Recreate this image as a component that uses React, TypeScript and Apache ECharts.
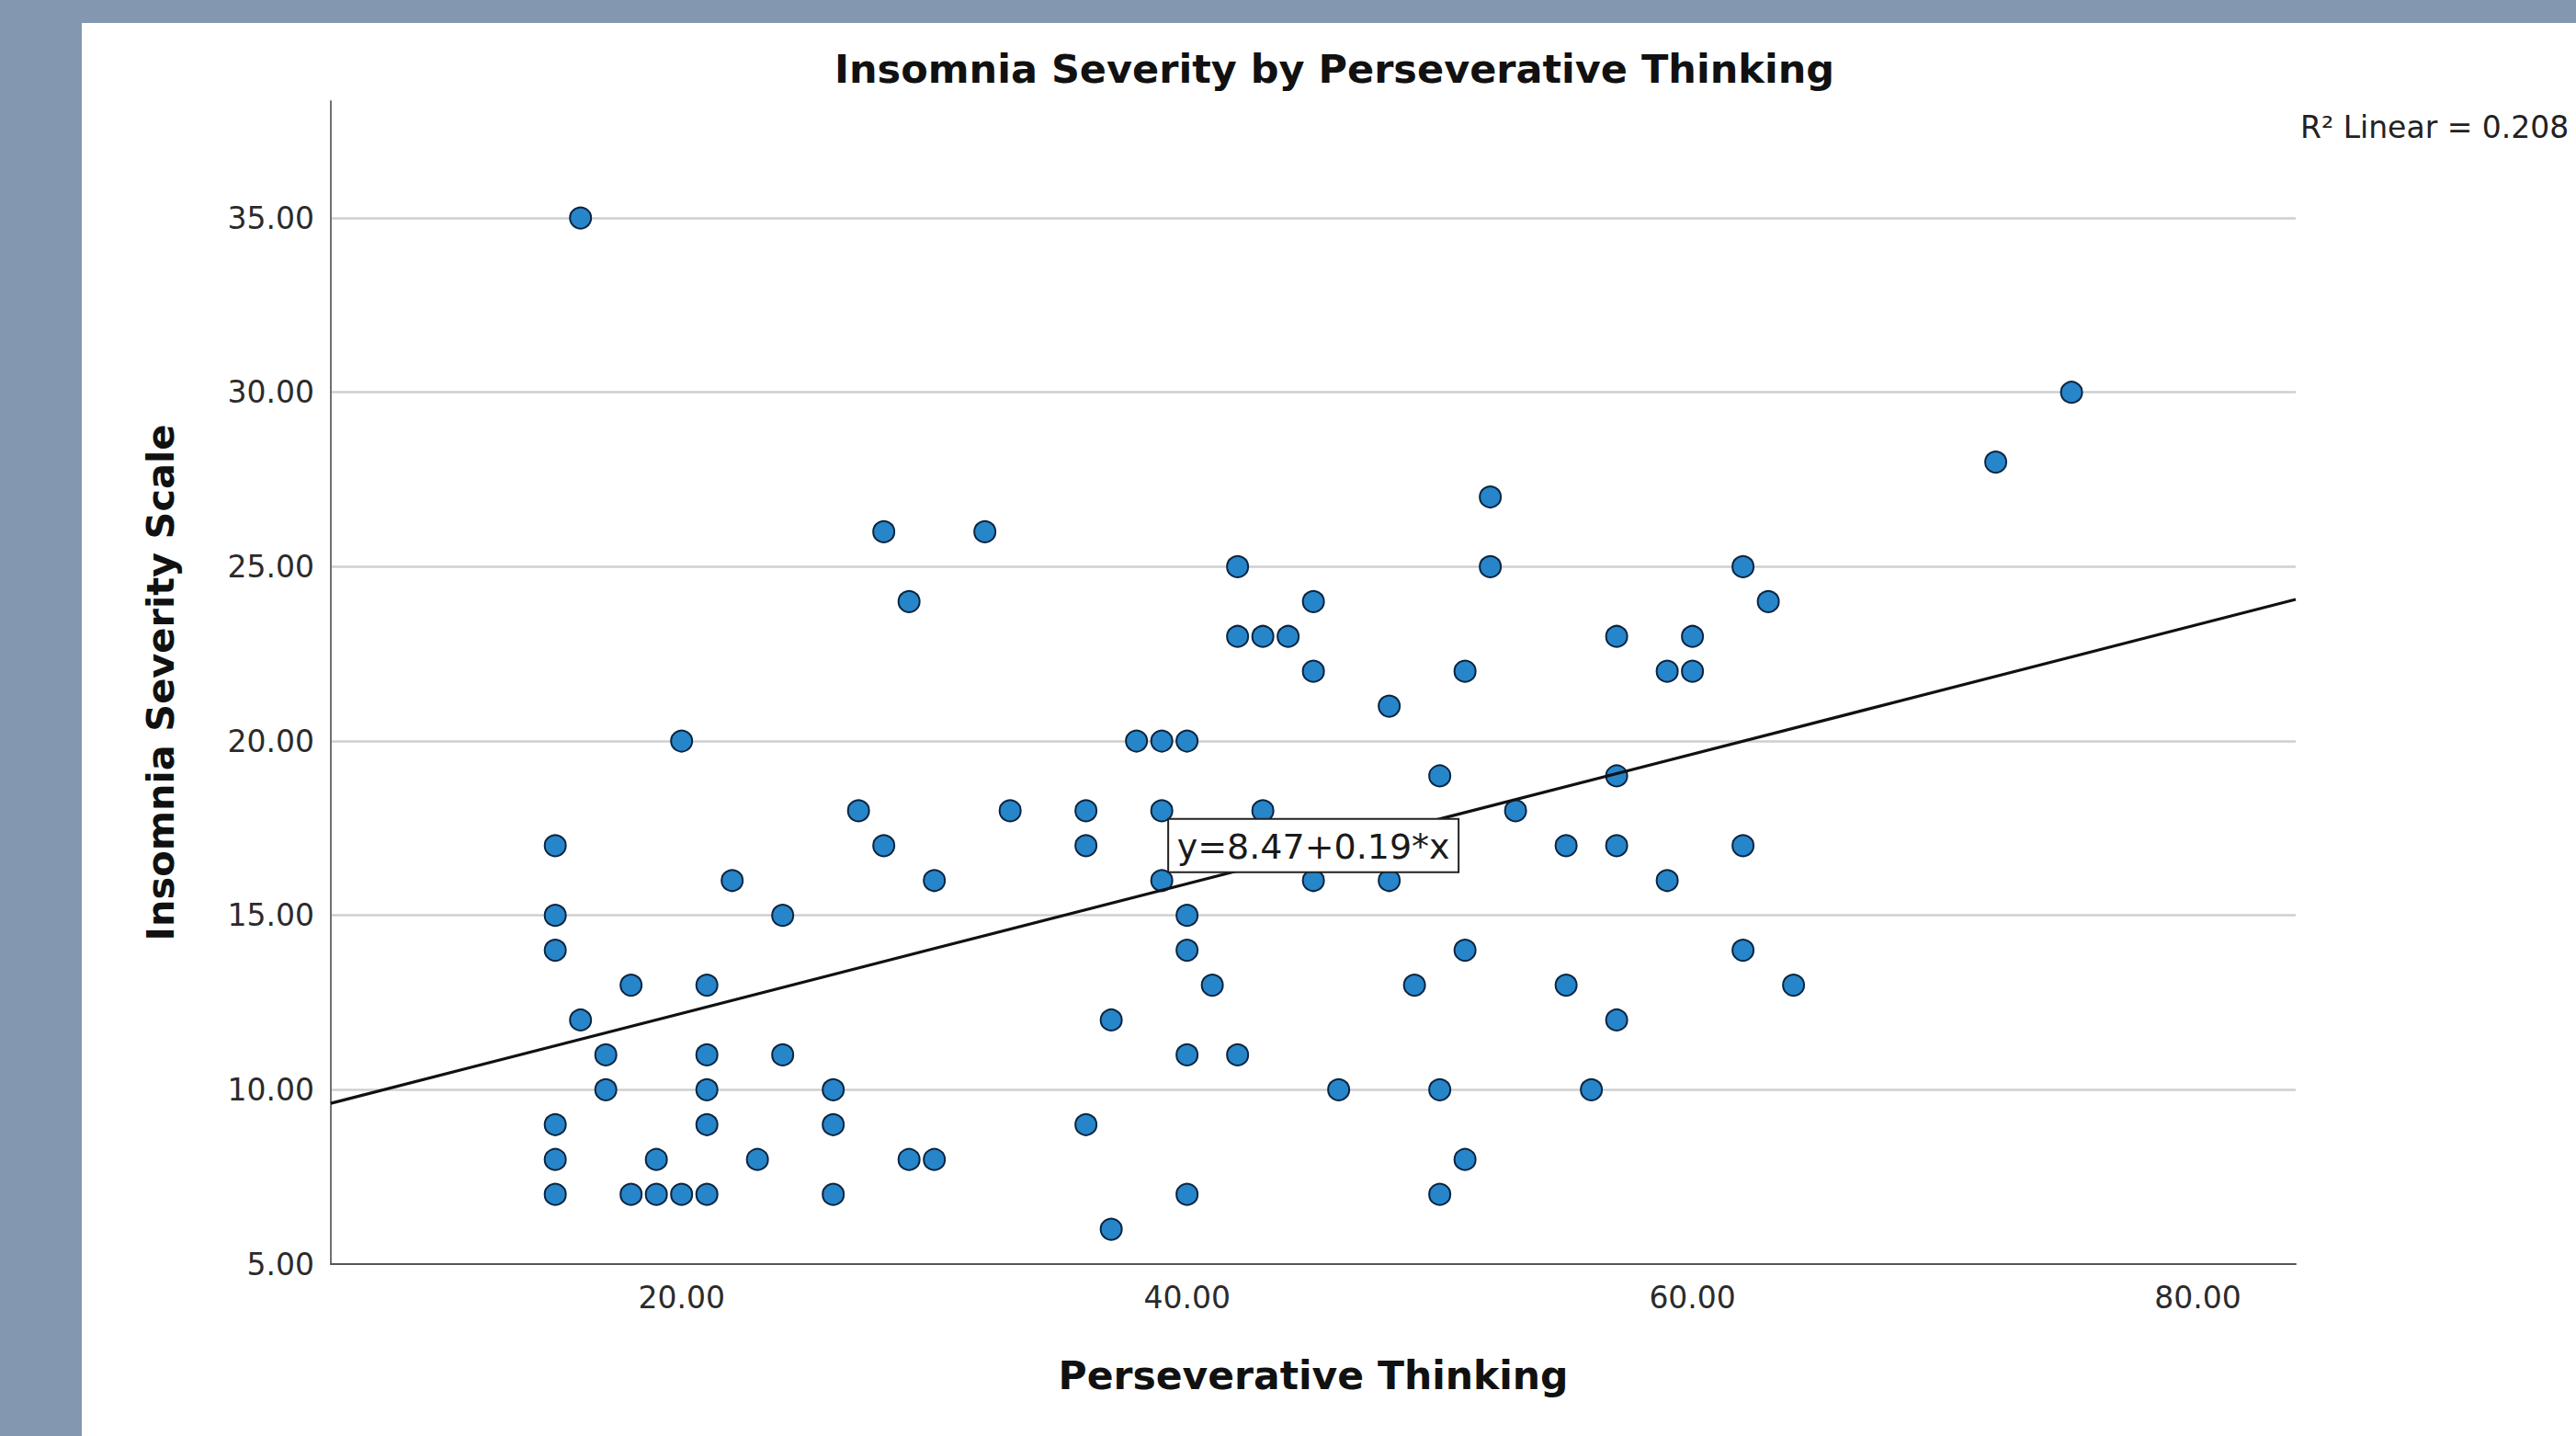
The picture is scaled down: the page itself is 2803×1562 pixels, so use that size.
import React, { useEffect, useRef } from "react";
import * as echarts from "echarts";

// ---- data ----
const perseverative = [
  15, 15, 15, 15, 15, 15,
  16, 16,
  17, 17,
  18, 18,
  19, 19,
  20, 20,
  21, 21, 21, 21, 21,
  22,
  23,
  24, 24,
  26, 26, 26,
  27,
  28, 28,
  29, 29,
  30, 30,
  32,
  33,
  36, 36, 36,
  37, 37,
  38,
  39, 39, 39,
  40, 40, 40, 40, 40,
  41,
  42, 42, 42,
  43, 43,
  44,
  45, 45, 45,
  46,
  48, 48,
  49,
  50, 50, 50,
  51, 51, 51,
  52, 52,
  53,
  55, 55,
  56,
  57, 57, 57, 57,
  59, 59,
  60, 60,
  62, 62, 62,
  63,
  64,
  72,
  75,
];
const insomnia = [
  17, 15, 14, 9, 8, 7,
  35, 12,
  11, 10,
  13, 7,
  8, 7,
  20, 7,
  13, 11, 10, 9, 7,
  16,
  8,
  15, 11,
  10, 9, 7,
  18,
  26, 17,
  24, 8,
  16, 8,
  26,
  18,
  18, 17, 9,
  12, 6,
  20,
  20, 18, 16,
  20, 15, 14, 11, 7,
  13,
  25, 23, 11,
  23, 18,
  23,
  24, 22, 16,
  10,
  21, 16,
  13,
  19, 10, 7,
  22, 14, 8,
  27, 25,
  18,
  17, 13,
  10,
  23, 19, 17, 12,
  22, 16,
  23, 22,
  25, 17, 14,
  24,
  13,
  28,
  30,
];

// fit line end points and its label
const fitLineX = [6.12, 83.87];
const fitLineY = [9.61, 24.06];
const fitLabelAnchor = [45, 17.0];
const fitLabel = "y=8.47+0.19*x";
const rSquaredText = "R\u00B2 Linear = 0.208";

const xRange = [6.12, 83.87];
const yRange = [5, 38.35];
const yStep = 5;

const titleText = "Insomnia Severity by Perseverative Thinking";
const xName = "Perseverative Thinking";
const yName = "Insomnia Severity Scale";

const FONT = "DejaVu Sans";

export default function App() {
  const ref = useRef<HTMLDivElement>(null);

  useEffect(() => {
    if (!ref.current) return;
    const chart = echarts.init(ref.current, null, { renderer: "svg" });
    const points = perseverative.map((x, i) => [x, insomnia[i]]);
    const linePts = fitLineX.map((x, i) => [x, fitLineY[i]]);

    chart.setOption({
      animation: false,
      backgroundColor: "#ffffff",
      title: {
        text: titleText,
        left: 1363,
        textAlign: "center",
        top: 28,
        padding: 0,
        textStyle: {
          fontFamily: FONT,
          fontWeight: "bold",
          fontSize: 43,
          color: "#111111",
        },
      },
      grid: {
        left: 271,
        top: 85,
        right: 305,
        bottom: 187,
        containLabel: false,
        outerBoundsMode: "none",
      },
      xAxis: {
        type: "value",
        min: xRange[0],
        max: xRange[1],
        splitNumber: 4,
        name: xName,
        nameLocation: "middle",
        nameGap: 100,
        nameTextStyle: {
          fontFamily: FONT,
          fontWeight: "bold",
          fontSize: 42.5,
          color: "#111111",
        },
        axisLine: { show: true, lineStyle: { color: "#555555", width: 2 } },
        axisTick: { show: false },
        splitLine: { show: false },
        axisLabel: {
          showMinLabel: false,
          showMaxLabel: false,
          margin: 20,
          fontFamily: FONT,
          fontSize: 33,
          color: "#2b2b2b",
          formatter: (v: number) => v.toFixed(2),
        },
      },
      yAxis: {
        type: "value",
        min: yRange[0],
        max: yRange[1],
        interval: yStep,
        name: yName,
        nameLocation: "middle",
        nameRotate: 90,
        nameGap: 165,
        nameTextStyle: {
          fontFamily: FONT,
          fontWeight: "bold",
          fontSize: 41.5,
          color: "#111111",
        },
        axisLine: { show: true, lineStyle: { color: "#707070", width: 2 } },
        axisTick: { show: false },
        splitLine: {
          show: true,
          showMinLine: false,
          showMaxLine: false,
          lineStyle: { color: "#cfcfcf", width: 2.5 },
        },
        axisLabel: {
          showMaxLabel: false,
          margin: 18,
          fontFamily: FONT,
          fontSize: 33,
          color: "#2b2b2b",
          formatter: (v: number) => v.toFixed(2),
        },
      },
      series: [
        {
          type: "scatter",
          data: points,
          symbol: "circle",
          symbolSize: 23,
          itemStyle: {
            color: "#2785ca",
            borderColor: "#0b2540",
            borderWidth: 2,
            opacity: 1,
          },
          z: 2,
          silent: true,
        },
        {
          type: "line",
          data: linePts,
          symbol: "none",
          lineStyle: { color: "#111111", width: 3.2 },
          z: 3,
          silent: true,
        },
      ],
    });

    const p = chart.convertToPixel({ gridIndex: 0 }, fitLabelAnchor) as number[];
    const boxW = 316;
    const boxH = 58;

    chart.setOption({
      graphic: [
        {
          type: "text",
          x: 2414,
          y: 113,
          z: 100,
          style: {
            text: rSquaredText,
            fontFamily: FONT,
            fontSize: 33,
            fill: "#222222",
            textAlign: "left",
            textVerticalAlign: "middle",
          },
        },
        {
          type: "group",
          x: p[0],
          y: p[1],
          z: 100,
          children: [
            {
              type: "rect",
              shape: { x: -boxW / 2, y: -boxH / 2, width: boxW, height: boxH },
              style: { fill: "#ffffff", stroke: "#222222", lineWidth: 2 },
              z: 100,
            },
            {
              type: "text",
              x: 0,
              y: 1,
              z: 101,
              style: {
                text: fitLabel,
                fontFamily: FONT,
                fontSize: 38,
                fill: "#1a1a1a",
                textAlign: "center",
                textVerticalAlign: "middle",
              },
            },
          ],
        },
      ],
    });

    return () => chart.dispose();
  }, []);

  return (
    <div
      style={{
        position: "fixed",
        left: 0,
        top: 0,
        width: 2803,
        height: 1562,
        background: "#8497b0",
        overflow: "hidden",
      }}
    >
      <div
        ref={ref}
        style={{
          position: "absolute",
          left: 89,
          top: 25,
          width: 2714,
          height: 1537,
          background: "#ffffff",
        }}
      />
    </div>
  );
}
